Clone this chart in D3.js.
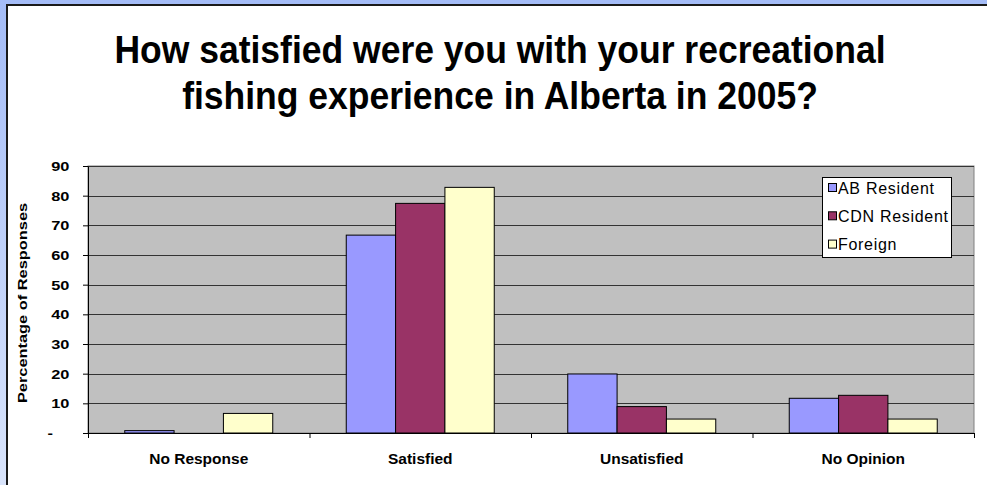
<!DOCTYPE html>
<html><head><meta charset="utf-8">
<script src="https://cdn.jsdelivr.net/npm/d3@7"></script>
<style>
body{margin:0;overflow:hidden;background:#fff;}
text{font-family:"Liberation Sans",Arial,Helvetica,sans-serif;fill:#000;}
</style>
</head><body>
<svg id="chart" width="987" height="485"></svg>
<script>
// ---- data ----
const categories = ["No Response", "Satisfied", "Unsatisfied", "No Opinion"];
const seriesNames = ["AB Resident", "CDN Resident", "Foreign"];
const abResident = [0.8, 66.7, 19.9, 11.7];
const cdnResident = [0, 77.4, 8.9, 12.7];
const foreign = [6.6, 82.8, 4.7, 4.7];
const yTicks = [0, 10, 20, 30, 40, 50, 60, 70, 80, 90];
const yTickLabels = ["-", "10", "20", "30", "40", "50", "60", "70", "80", "90"];
const titleLines = ["How satisfied were you with your recreational", "fishing experience in Alberta in 2005?"];
const yAxisTitle = "Percentage of Responses";

const seriesValues = [abResident, cdnResident, foreign];
const colors = ["#9999ff", "#993366", "#ffffcc"];

const svg = d3.select("#chart");
const W = 987, H = 485;
const plot = {left: 88, right: 974, top: 166, bottom: 433};

// background gradient
const defs = svg.append("defs");
const grad = defs.append("linearGradient").attr("id", "bg").attr("x1", 0).attr("y1", 0).attr("x2", 0).attr("y2", 1);
grad.append("stop").attr("offset", "0%").attr("stop-color", "#a4bcf7");
grad.append("stop").attr("offset", "100%").attr("stop-color", "#d9e4fb");
svg.append("rect").attr("width", W).attr("height", H).attr("fill", "url(#bg)");

// white chart panel
svg.append("rect").attr("x", 7).attr("y", 5).attr("width", W + 20).attr("height", H + 20)
  .attr("fill", "#fff").attr("stroke", "#1a1a1a").attr("stroke-width", 2);

// title
const title = svg.append("g");
titleLines.forEach((t, i) => {
  title.append("text")
    .attr("transform", `translate(500,${i === 0 ? 62.7 : 108.7}) scale(1,1.08)`)
    .attr("text-anchor", "middle")
    .attr("font-weight", "bold")
    .attr("font-size", 35.5)
    .text(t);
});

// scales
const y = d3.scaleLinear().domain([0, 90]).range([plot.bottom, plot.top]);
const x = d3.scaleBand().domain(categories).range([plot.left, plot.right]).padding(0);
const xs = d3.scaleBand().domain(seriesNames).range([0, x.bandwidth()]).paddingInner(0).paddingOuter(0.745);
const xEdge = d3.scaleLinear().domain([0, categories.length]).range([plot.left, plot.right]);

// plot area
svg.append("rect").attr("x", plot.left).attr("y", plot.top)
  .attr("width", plot.right - plot.left).attr("height", plot.bottom - plot.top)
  .attr("fill", "#c0c0c0").attr("stroke", "#808080").attr("stroke-width", 1);

// gridlines
svg.append("g").selectAll("line").data(yTicks.filter(d => d > 0)).join("line")
  .attr("x1", plot.left).attr("x2", plot.right)
  .attr("y1", d => Math.round(y(d)) + 0.5).attr("y2", d => Math.round(y(d)) + 0.5)
  .attr("stroke", "#333").attr("stroke-width", 1);

// bars
const gBars = svg.append("g");
seriesNames.forEach((s, si) => {
  gBars.append("g").selectAll("rect").data(categories.map((c, ci) => ({c, v: seriesValues[si][ci]})))
    .join("rect")
    .filter(d => d.v > 0)
    .attr("x", d => x(d.c) + xs(s))
    .attr("y", d => y(d.v))
    .attr("width", xs.bandwidth())
    .attr("height", d => y(0) - y(d.v))
    .attr("fill", colors[si])
    .attr("stroke", "#000").attr("stroke-width", 1);
});

// y axis
const yAxis = svg.append("g").attr("transform", `translate(${plot.left},0)`)
  .call(d3.axisLeft(y).tickValues(yTicks).tickSize(5).tickSizeOuter(0).tickFormat((d, i) => yTickLabels[i]));
yAxis.select(".domain").attr("stroke", "#000");
yAxis.selectAll(".tick line").attr("stroke", "#000");
yAxis.selectAll(".tick text")
  .attr("x", null).attr("dy", null)
  .attr("text-anchor", "end")
  .attr("font-family", "'Liberation Sans',Arial,sans-serif")
  .attr("font-weight", "bold").attr("font-size", 12.6)
  .attr("transform", (d) => d === 0 ? "translate(-35,4.5) scale(1.3,1)" : "translate(-18.5,4.5) scale(1.3,1)");

// x axis (ticks at category boundaries)
const xAxis = svg.append("g").attr("transform", `translate(0,${plot.bottom})`)
  .call(d3.axisBottom(xEdge).tickValues(d3.range(categories.length + 1)).tickSize(5).tickSizeOuter(0).tickFormat(""));
xAxis.select(".domain").attr("stroke", "#000");
xAxis.selectAll(".tick line").attr("stroke", "#000");

// category labels
const xLab = svg.append("g").attr("transform", `translate(0,${plot.bottom})`)
  .call(d3.axisBottom(x).tickSize(0));
xLab.select(".domain").remove();
xLab.selectAll(".tick text")
  .attr("y", null).attr("dy", null)
  .attr("transform", "translate(0,31)")
  .attr("font-family", "'Liberation Sans',Arial,sans-serif")
  .attr("font-weight", "bold").attr("font-size", 15.5);

// y axis title
svg.append("text")
  .attr("transform", "translate(27,303) rotate(-90) scale(1.3,1)")
  .attr("text-anchor", "middle")
  .attr("font-weight", "bold").attr("font-size", 12.6)
  .text(yAxisTitle);

// legend
const lg = svg.append("g");
lg.append("rect").attr("x", 822.5).attr("y", 177.5).attr("width", 129).attr("height", 80)
  .attr("fill", "#fff").attr("stroke", "#000").attr("stroke-width", 1);
seriesNames.forEach((s, i) => {
  const cy = 187.5 + i * 28.3;
  lg.append("rect").attr("x", 828.5).attr("y", cy - 4).attr("width", 8).attr("height", 8)
    .attr("fill", colors[i]).attr("stroke", "#000").attr("stroke-width", 1);
  lg.append("text").attr("x", 838).attr("y", cy + 6)
    .attr("font-size", 16).attr("letter-spacing", 0.7).text(s);
});
</script>
</body></html>
